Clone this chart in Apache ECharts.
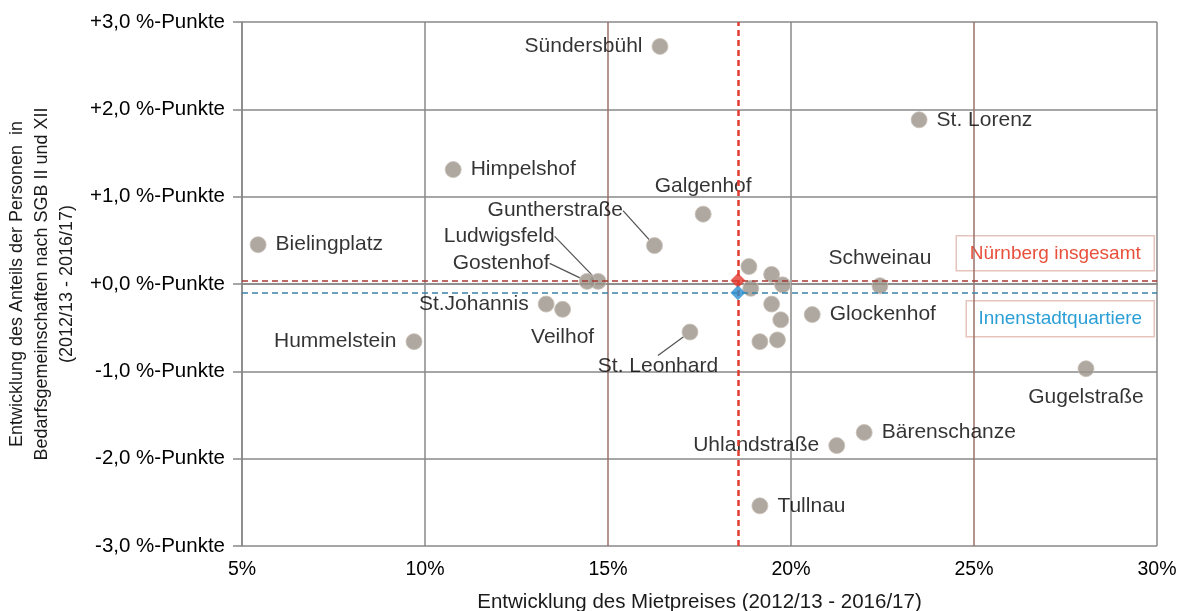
<!DOCTYPE html>
<html>
<head>
<meta charset="utf-8">
<script src="https://cdn.jsdelivr.net/npm/echarts@6/dist/echarts.min.js"></script>
<style>
  html, body { margin: 0; padding: 0; background: #fff; }
  #Chart { width: 1178px; height: 611px; }
</style>
</head>
<body>
<div id="Chart"></div>
<script>
var Chart = echarts.init(document.getElementById('Chart'));

// Stadtteile: Mietpreis-Entwicklung (%) und Entwicklung SGB-Anteil (%-Punkte)
var names = ['Sündersbühl', 'St. Lorenz', 'Himpelshof', 'Galgenhof', 'Guntherstraße', 'Bielingplatz',
    'Ludwigsfeld', 'Gostenhof', 'St.Johannis', 'Veilhof', 'Hummelstein', 'St. Leonhard',
    'Glockenhof', 'Schweinau', 'Gugelstraße', 'Bärenschanze', 'Uhlandstraße', 'Tullnau',
    '', '', '', '', '', '', '', ''];
var rentChange = [16.42, 23.5, 10.77, 17.6, 16.27, 5.44,
    14.73, 14.43, 13.31, 13.76, 9.7, 17.24,
    20.58, 22.43, 28.06, 22.0, 21.25, 19.15,
    18.85, 19.47, 19.77, 18.9, 19.47, 19.72, 19.15, 19.63];
var sgbChange = [2.72, 1.88, 1.31, 0.8, 0.44, 0.45,
    0.03, 0.03, -0.23, -0.29, -0.66, -0.55,
    -0.35, -0.02, -0.97, -1.7, -1.85, -2.54,
    0.2, 0.11, -0.01, -0.05, -0.23, -0.41, -0.66, -0.64];

var cityName = 'Nürnberg insgesamt';
var cityValue = [18.55, 0.04];
var innerName = 'Innenstadtquartiere';
var innerValue = [18.55, -0.1];

var yTicks = [-3, -2, -1, 0, 1, 2, 3];

// label placement per name (position, offsets, leader line)
var labelPlace = {
    'Sündersbühl': {pos: 'left'},
    'St. Lorenz': {pos: 'right'},
    'Himpelshof': {pos: 'right'},
    'Galgenhof': {pos: 'top'},
    'Guntherstraße': {pos: 'left', dx: -14, dy: -35, line: true},
    'Bielingplatz': {pos: 'right'},
    'Ludwigsfeld': {pos: 'left', dx: -26, dy: -45, line: true},
    'Gostenhof': {pos: 'left', dx: -20, dy: -18, line: true},
    'St.Johannis': {pos: 'left'},
    'Veilhof': {pos: 'bottom'},
    'Hummelstein': {pos: 'left'},
    'St. Leonhard': {pos: 'bottom', dx: -32, dy: 6, line: true},
    'Glockenhof': {pos: 'right'},
    'Schweinau': {pos: 'top'},
    'Gugelstraße': {pos: 'bottom'},
    'Bärenschanze': {pos: 'right'},
    'Uhlandstraße': {pos: 'left'},
    'Tullnau': {pos: 'right'}
};

var pointData = names.map(function (n, i) {
    var p = labelPlace[n];
    var item = {name: n, value: [rentChange[i], sgbChange[i]]};
    if (p) {
        item.label = {show: true, position: p.pos};
        if (p.line) item.labelLine = {show: true};
    } else {
        item.label = {show: false};
    }
    return item;
});

var fontFamily = 'Arial, "Liberation Sans", sans-serif';

var option = {
    animation: false,
    textStyle: {fontFamily: fontFamily},
    grid: {left: 242, right: 21, top: 22, bottom: 65, outerBoundsMode: 'none', containLabel: false},
    xAxis: {
        type: 'value',
        min: 5, max: 30, interval: 5,
        name: 'Entwicklung des Mietpreises (2012/13 - 2016/17)',
        nameLocation: 'middle',
        nameGap: 46,
        nameTextStyle: {fontSize: 20.5, color: '#1a1a1a', fontFamily: fontFamily},
        axisLine: {show: true, lineStyle: {color: '#888', width: 1.5}},
        axisTick: {show: false},
        axisLabel: {
            fontSize: 19.5, color: '#000', margin: 14,
            formatter: function (v) { return v + '%'; }
        },
        splitLine: {show: true, lineStyle: {color: ['#888', '#888', '#9a7068', '#888', '#9a7068', '#888'], width: 1.5}}
    },
    yAxis: {
        type: 'value',
        min: yTicks[0], max: yTicks[yTicks.length - 1], interval: 1,
        name: 'Entwicklung des Anteils der Personen  in\nBedarfsgemeinschaften nach SGB II und XII\n(2012/13 - 2016/17)',
        nameLocation: 'middle',
        nameGap: 156,
        nameTextStyle: {fontSize: 18, color: '#1a1a1a', lineHeight: 25, fontFamily: fontFamily},
        axisLine: {show: true, lineStyle: {color: '#888', width: 1.5}},
        axisTick: {show: true, length: 9, lineStyle: {color: '#888', width: 1.5}},
        axisLabel: {
            fontSize: 20.5, color: '#000', margin: 17,
            formatter: function (v) {
                var s = Math.abs(v).toFixed(1).replace('.', ',');
                return (v < 0 ? '-' : '+') + s + ' %-Punkte';
            }
        },
        splitLine: {show: true, lineStyle: {color: '#888', width: 1.5}}
    },
    graphic: [
        {
            type: 'group', right: 23, top: 235,
            children: [
                {type: 'rect', shape: {x: 0, y: 0, width: 198, height: 35},
                    style: {fill: '#fff', stroke: '#e6c4bc', lineWidth: 1.5}},
                {type: 'text',
                    style: {text: cityName, fill: '#e8503c', font: '19px ' + fontFamily, align: 'center', verticalAlign: 'middle', x: 99, y: 18}}
            ]
        },
        {
            type: 'group', right: 23, top: 300,
            children: [
                {type: 'rect', shape: {x: 0, y: 0, width: 188, height: 36},
                    style: {fill: '#fff', stroke: '#e6c4bc', lineWidth: 1.5}},
                {type: 'text',
                    style: {text: innerName, fill: '#2a9fd6', font: '19px ' + fontFamily, align: 'center', verticalAlign: 'middle', x: 94, y: 18}}
            ]
        }
    ],
    series: [
        {
            name: 'Stadtteile',
            type: 'scatter',
            symbolSize: 16,
            itemStyle: {color: '#9a928a', borderColor: '#c9c0b8', borderWidth: 1},
            label: {
                fontSize: 21, color: '#000', distance: 9,
                formatter: '{b}'
            },
            labelLine: {lineStyle: {color: '#555', width: 1.3}},
            labelLayout: function (params) {
                var p = labelPlace[names[params.dataIndex]];
                if (p && p.line) return {dx: p.dx, dy: p.dy};
                return {};
            },
            data: pointData,
            z: 3
        },
        {
            name: cityName,
            type: 'scatter',
            symbol: 'diamond',
            symbolSize: 15,
            itemStyle: {color: '#e53a30'},
            data: [cityValue],
            z: 5,
            markLine: {
                silent: true,
                symbol: 'none',
                label: {show: false},
                data: [
                    {yAxis: cityValue[1], lineStyle: {color: '#a83a34', type: [6, 4], width: 1.5}},
                    {xAxis: cityValue[0], lineStyle: {color: '#e03c30', type: [6, 4], width: 2.5}}
                ]
            }
        },
        {
            name: innerName,
            type: 'scatter',
            symbol: 'diamond',
            symbolSize: 15,
            itemStyle: {color: '#2b8fcf'},
            data: [innerValue],
            z: 6,
            markLine: {
                silent: true,
                symbol: 'none',
                label: {show: false},
                data: [
                    {yAxis: innerValue[1], lineStyle: {color: '#3a84a8', type: [6, 4], width: 1.5}}
                ]
            }
        }
    ]
};

Chart.setOption(option);

window.addEventListener('resize', function () {
    Chart.resize();
});
</script>
</body>
</html>
